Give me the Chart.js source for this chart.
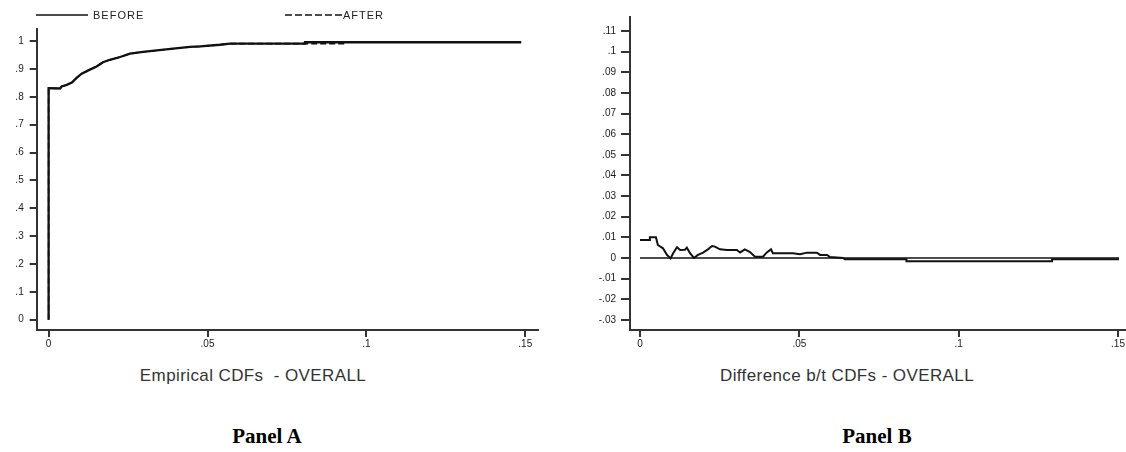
<!DOCTYPE html>
<html>
<head>
<meta charset="utf-8">
<script src="https://cdn.jsdelivr.net/npm/chart.js@4"></script>
<style>
  html, body { margin:0; padding:0; background:#fff; }
  body { width:1126px; height:452px; position:relative; overflow:hidden; font-family:"Liberation Sans", Arial, sans-serif; }
  canvas { position:absolute; top:0; }
  .txt { position:absolute; white-space:nowrap; color:#222; }
  .axt { font-size:17px; letter-spacing:0.4px; transform:translate(-50%,-50%); color:#333; }
  .pan { font-family:"Liberation Serif","Times New Roman",serif; font-weight:bold; font-size:21px; transform:translate(-50%,-50%); color:#000; }
  .leg { font-size:11px; letter-spacing:1px; transform:translateY(-50%); color:#222; }
</style>
</head>
<body>
<canvas id="cA" width="560" height="360" style="left:0"></canvas>
<canvas id="cB" width="566" height="360" style="left:560px"></canvas>

<svg width="1126" height="30" style="position:absolute;left:0;top:0">
  <line x1="36" y1="15" x2="88" y2="15" stroke="#111" stroke-width="1.5"/>
  <line x1="285" y1="15" x2="343" y2="15" stroke="#111" stroke-width="1.5" stroke-dasharray="7,3"/>
</svg>
<div class="txt leg" style="left:93px;top:15px">BEFORE</div>
<div class="txt leg" style="left:343px;top:15px">AFTER</div>

<div class="txt axt" style="left:253px;top:376px">Empirical CDFs&nbsp; - OVERALL</div>
<div class="txt axt" style="left:847px;top:376px">Difference b/t CDFs - OVERALL</div>
<div class="txt pan" style="left:267px;top:436px">Panel A</div>
<div class="txt pan" style="left:877px;top:436px">Panel B</div>

<script>
// ---------- Panel A data (empirical CDFs) ----------
const cdfX    = [0, 0, 0.0036, 0.0041, 0.0057, 0.0073, 0.0088, 0.0104, 0.0125, 0.0151, 0.0171, 0.0193, 0.0225, 0.0256, 0.0297, 0.0341, 0.0392, 0.0445, 0.0477, 0.0539, 0.0571, 0.0807, 0.0807, 0.0935, 0.0935, 0.1487];
const beforeY = [0, 0.831, 0.830, 0.837, 0.843, 0.851, 0.868, 0.883, 0.895, 0.909, 0.924, 0.933, 0.943, 0.955, 0.961, 0.967, 0.973, 0.979, 0.981, 0.987, 0.991, 0.991, 0.996, 0.996, 0.996, 0.996];
const afterY  = [0, 0.831, 0.830, 0.837, 0.843, 0.851, 0.868, 0.883, 0.895, 0.909, 0.924, 0.933, 0.943, 0.955, 0.961, 0.967, 0.973, 0.979, 0.981, 0.987, 0.991, 0.991, 0.991, 0.991, 0.996, 0.996];
const xTicksA = [0, 0.05, 0.1, 0.15];
const xLabelsA = ['0', '.05', '.1', '.15'];
const yTicksA = [0, 0.1, 0.2, 0.3, 0.4, 0.5, 0.6, 0.7, 0.8, 0.9, 1];
const yLabelsA = ['0', '.1', '.2', '.3', '.4', '.5', '.6', '.7', '.8', '.9', '1'];

// ---------- Panel B data (difference between CDFs) ----------
const diffX = [0, 0.0031, 0.0031, 0.0050, 0.0056, 0.0072, 0.0085, 0.0096, 0.0104, 0.0116, 0.0126, 0.0141, 0.0147, 0.0157, 0.0169, 0.0182, 0.0198, 0.0213, 0.0226, 0.0235, 0.0251, 0.0273, 0.0304, 0.0314, 0.0329, 0.0345, 0.0361, 0.0386, 0.0398, 0.0411, 0.0417, 0.0439, 0.0480, 0.0502, 0.0524, 0.0555, 0.0565, 0.0587, 0.0596, 0.0637, 0.0643, 0.0836, 0.0836, 0.1293, 0.1293, 0.1503];
const diffY = [0.0087, 0.0087, 0.0100, 0.0100, 0.0063, 0.0047, 0.0014, -0.0002, 0.0023, 0.0052, 0.0039, 0.0040, 0.0050, 0.0023, 0.0000, 0.0015, 0.0026, 0.0042, 0.0058, 0.0055, 0.0042, 0.0039, 0.0039, 0.0027, 0.0042, 0.0029, 0.0006, 0.0006, 0.0027, 0.0042, 0.0023, 0.0023, 0.0023, 0.0018, 0.0026, 0.0026, 0.0015, 0.0015, 0.0005, 0.0000, -0.0006, -0.0006, -0.0016, -0.0016, -0.0006, -0.0006];
const zeroX = [0, 0.1503];
const zeroY = [0, 0];
const xTicksB = [0, 0.05, 0.1, 0.15];
const xLabelsB = ['0', '.05', '.1', '.15'];
const yTicksB = [-0.03, -0.02, -0.01, 0, 0.01, 0.02, 0.03, 0.04, 0.05, 0.06, 0.07, 0.08, 0.09, 0.1, 0.11];
const yLabelsB = ['-.03', '-.02', '-.01', '0', '.01', '.02', '.03', '.04', '.05', '.06', '.07', '.08', '.09', '.1', '.11'];

const pts = (xs, ys) => xs.map((x, i) => ({ x: x, y: ys[i] }));
const AX = '#333';
const tickFont = { family: '"Liberation Sans", Arial, sans-serif', size: 10 };

function axis(cfg) {
  return {
    type: 'linear', min: cfg.min, max: cfg.max,
    afterFit: s => { if (cfg.w !== undefined) s.width = cfg.w; if (cfg.h !== undefined) s.height = cfg.h; },
    afterBuildTicks: s => { s.ticks = cfg.ticks.map(v => ({ value: v })); },
    ticks: { callback: (v, i) => cfg.labels[i], font: tickFont, color: '#1a1a1a', padding: cfg.pad, autoSkip: false, maxRotation: 0, minRotation: 0 },
    grid: { drawOnChartArea: false, drawTicks: true, tickLength: cfg.tl, lineWidth: 2, color: AX },
    border: { display: true, width: 2, color: AX }
  };
}

function makeChart(id, datasets, pad, xs, ys) {
  return new Chart(document.getElementById(id), {
    type: 'line',
    data: { datasets: datasets },
    options: {
      responsive: false, animation: false,
      layout: { padding: pad },
      plugins: { legend: { display: false }, tooltip: { enabled: false } },
      elements: { point: { radius: 0 }, line: { tension: 0 } },
      scales: { x: xs, y: ys }
    }
  });
}

// Panel A: chart area x 36.7..538, y 29.3..330
makeChart('cA', [
  { label: 'BEFORE', data: pts(cdfX, beforeY), borderColor: '#111', borderWidth: 2.3, order: 0 },
  { label: 'AFTER', data: pts(cdfX, afterY), borderColor: '#111', borderWidth: 1.6, borderDash: [6, 3], order: 1 }
], { top: 29.3, right: 22, left: 0, bottom: 0 },
  axis({ min: -0.00375, max: 0.154, ticks: xTicksA, labels: xLabelsA, h: 30, pad: 1, tl: 7 }),
  axis({ min: -0.037, max: 1.0424, ticks: yTicksA, labels: yLabelsA, w: 36.7, pad: 6, tl: 7 })
);

// Panel B: chart area x 630..1126 (local 70..566), y 17..330
makeChart('cB', [
  { label: 'Difference', data: pts(diffX, diffY), borderColor: '#111', borderWidth: 2, order: 0 },
  { label: 'Zero', data: pts(zeroX, zeroY), borderColor: '#111', borderWidth: 1.5, order: 1 }
], { top: 17, right: 0, left: 0, bottom: 0 },
  axis({ min: -0.00314, max: 0.1525, ticks: xTicksB, labels: xLabelsB, h: 30, pad: 1, tl: 7 }),
  axis({ min: -0.0349, max: 0.1168, ticks: yTicksB, labels: yLabelsB, w: 70, pad: 5, tl: 9 })
);
</script>
</body>
</html>
